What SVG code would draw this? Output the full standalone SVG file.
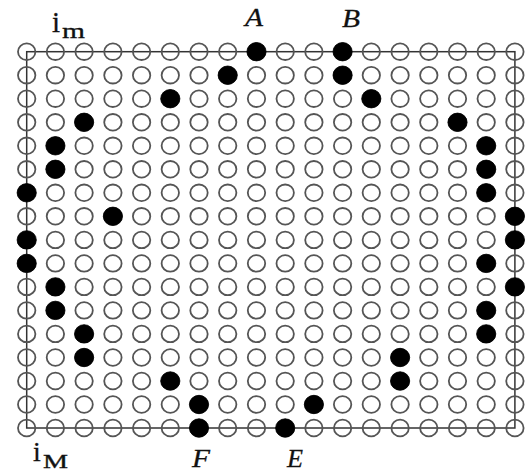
<svg xmlns="http://www.w3.org/2000/svg" xmlns:xlink="http://www.w3.org/1999/xlink" width="527" height="474" viewBox="0 0 527 474">
<style>
.o{fill:none;stroke:#555;stroke-width:1.8}
.f{fill:#000;stroke:#000;stroke-width:0.8}
.frame{fill:none;stroke:#333;stroke-width:1.5}
.lab{font-family:"Liberation Serif","Times New Roman",serif;fill:#111;stroke:#111;stroke-width:0.3}
.it{font-style:italic}
</style>
<defs>
<ellipse id="o" class="o" cx="0" cy="0" rx="8.7" ry="8.3"/>
<ellipse id="f" class="f" cx="0" cy="0" rx="9.6" ry="9.2"/>
<g id="row">
<use href="#o" x="26.7"/><use href="#o" x="55.4"/><use href="#o" x="84.1"/><use href="#o" x="112.9"/><use href="#o" x="141.6"/><use href="#o" x="170.3"/><use href="#o" x="199.0"/><use href="#o" x="227.7"/><use href="#o" x="256.5"/><use href="#o" x="285.2"/><use href="#o" x="313.9"/><use href="#o" x="342.6"/><use href="#o" x="371.3"/><use href="#o" x="400.1"/><use href="#o" x="428.8"/><use href="#o" x="457.5"/><use href="#o" x="486.2"/><use href="#o" x="514.9"/>
</g>
</defs>
<rect width="527" height="474" fill="#fff"/>
<g id="connectors">
<rect class="frame" x="26.7" y="51.7" width="488.2" height="376.3"/>
</g>
<g id="grid">
<use href="#row" y="51.7"/>
<use href="#row" y="75.2"/>
<use href="#row" y="98.7"/>
<use href="#row" y="122.3"/>
<use href="#row" y="145.8"/>
<use href="#row" y="169.3"/>
<use href="#row" y="192.8"/>
<use href="#row" y="216.3"/>
<use href="#row" y="239.9"/>
<use href="#row" y="263.4"/>
<use href="#row" y="286.9"/>
<use href="#row" y="310.4"/>
<use href="#row" y="333.9"/>
<use href="#row" y="357.5"/>
<use href="#row" y="381.0"/>
<use href="#row" y="404.5"/>
<use href="#row" y="428.0"/>
</g>
<g id="path-left">
<use href="#f" x="256.5" y="51.7"/>
<use href="#f" x="227.7" y="75.2"/>
<use href="#f" x="170.3" y="98.7"/>
<use href="#f" x="84.1" y="122.3"/>
<use href="#f" x="55.4" y="145.8"/>
<use href="#f" x="55.4" y="169.3"/>
<use href="#f" x="26.7" y="192.8"/>
<use href="#f" x="112.9" y="216.3"/>
<use href="#f" x="26.7" y="239.9"/>
<use href="#f" x="26.7" y="263.4"/>
<use href="#f" x="55.4" y="286.9"/>
<use href="#f" x="55.4" y="310.4"/>
<use href="#f" x="84.1" y="333.9"/>
<use href="#f" x="84.1" y="357.5"/>
<use href="#f" x="170.3" y="381.0"/>
<use href="#f" x="199.0" y="404.5"/>
<use href="#f" x="199.0" y="428.0"/>
</g>
<g id="path-right">
<use href="#f" x="342.6" y="51.7"/>
<use href="#f" x="342.6" y="75.2"/>
<use href="#f" x="371.3" y="98.7"/>
<use href="#f" x="457.5" y="122.3"/>
<use href="#f" x="486.2" y="145.8"/>
<use href="#f" x="486.2" y="169.3"/>
<use href="#f" x="486.2" y="192.8"/>
<use href="#f" x="514.9" y="216.3"/>
<use href="#f" x="514.9" y="239.9"/>
<use href="#f" x="486.2" y="263.4"/>
<use href="#f" x="514.9" y="286.9"/>
<use href="#f" x="486.2" y="310.4"/>
<use href="#f" x="486.2" y="333.9"/>
<use href="#f" x="400.1" y="357.5"/>
<use href="#f" x="400.1" y="381.0"/>
<use href="#f" x="313.9" y="404.5"/>
<use href="#f" x="285.2" y="428.0"/>
</g>
<g id="labels">
<g id="label-im"><text class="lab" x="52" y="32" font-size="29">i</text><text class="lab" x="62" y="38" font-size="22" textLength="23" lengthAdjust="spacingAndGlyphs">m</text></g>
<g id="label-iM"><text class="lab" x="33" y="461" font-size="28">i</text><text class="lab" x="43" y="468" font-size="18" textLength="25" lengthAdjust="spacingAndGlyphs">M</text></g>
<g id="label-A"><text class="lab it" x="245" y="26" font-size="26" textLength="18" lengthAdjust="spacingAndGlyphs">A</text></g>
<g id="label-B"><text class="lab it" x="342" y="27" font-size="26" textLength="18" lengthAdjust="spacingAndGlyphs">B</text></g>
<g id="label-F"><text class="lab it" x="192" y="467" font-size="26" textLength="18" lengthAdjust="spacingAndGlyphs">F</text></g>
<g id="label-E"><text class="lab it" x="287" y="467" font-size="26" textLength="16" lengthAdjust="spacingAndGlyphs">E</text></g>
</g>
</svg>
